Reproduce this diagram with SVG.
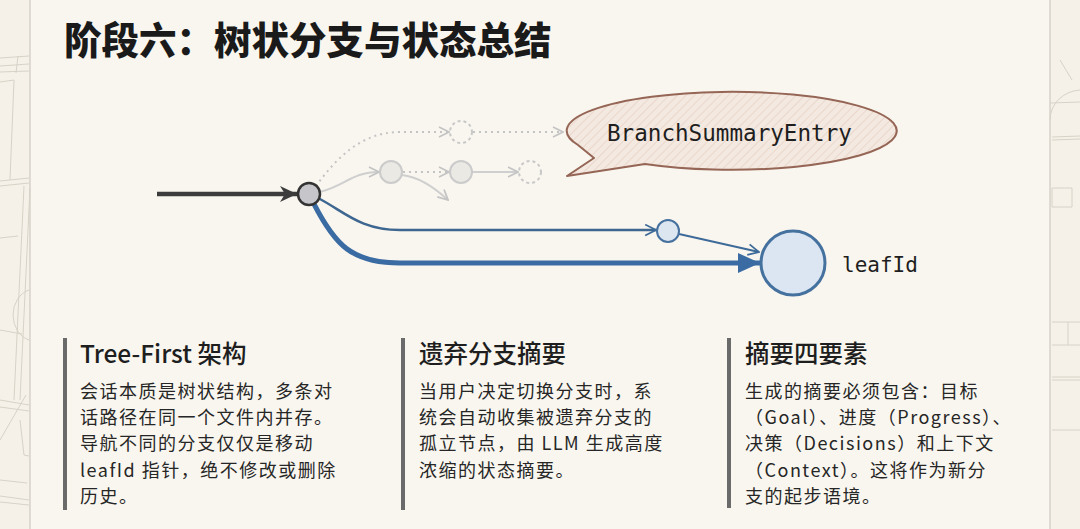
<svg xmlns="http://www.w3.org/2000/svg" width="1080" height="529" viewBox="0 0 1080 529">
  <defs>
    <style>
      .title{font-family:"Noto Sans CJK SC","Noto Sans",sans-serif;font-weight:900;font-size:37.5px;fill:#1a1a1a}
      .head{font-family:"Noto Sans CJK SC","Noto Sans",sans-serif;font-weight:500;font-size:24.5px;fill:#1e1e1e}
      .body{font-family:"Noto Sans CJK SC","Noto Sans",sans-serif;font-size:18px;letter-spacing:1.5px;fill:#262626}
      .mono{font-family:"DejaVu Sans Mono","Liberation Mono",monospace;fill:#1e1e1e}
      .bar{fill:#6a6a6a}
      .sketch{fill:none;stroke:#d6d2c8;stroke-width:1}
      .ghost{fill:#ebe9e4;stroke:#cbcbcb;stroke-width:2}
      .ghostdash{fill:none;stroke:#c8c8c8;stroke-width:2;stroke-dasharray:3 3}
      .dotted{fill:none;stroke:#c4c4c4;stroke-width:2;stroke-dasharray:2 4}
      .gsolid{fill:none;stroke:#cfcfcf;stroke-width:2}
    </style>
    <pattern id="hatch" width="6" height="6" patternUnits="userSpaceOnUse" patternTransform="rotate(45)">
      <rect width="6" height="6" fill="#f4e9e0"/>
      <line x1="0" y1="0" x2="0" y2="6" stroke="#e2cbbd" stroke-width="1.2"/>
    </pattern>
    <marker id="chevGray" viewBox="0 0 12 12" refX="11" refY="6" markerWidth="12" markerHeight="12" markerUnits="userSpaceOnUse" orient="auto">
      <path d="M1,1 L11,6 L1,11" fill="none" stroke="#c4c4c4" stroke-width="1.8"/>
    </marker>
    <marker id="chevBlue" viewBox="0 0 12 12" refX="11" refY="6" markerWidth="13" markerHeight="13" markerUnits="userSpaceOnUse" orient="auto">
      <path d="M1,1 L11,6 L1,11" fill="none" stroke="#3d6a98" stroke-width="1.6"/>
    </marker>
    <marker id="darkArrow" viewBox="0 0 20 20" refX="19" refY="10" markerWidth="20" markerHeight="20" markerUnits="userSpaceOnUse" orient="auto">
      <path d="M2,2 L19,10 L2,18 L7,10 Z" fill="#3c3c3c"/>
    </marker>
    <marker id="blueArrow" viewBox="0 0 24 24" refX="23" refY="12" markerWidth="24" markerHeight="24" markerUnits="userSpaceOnUse" orient="auto">
      <path d="M1,2 L23,12 L1,22 Z" fill="#3a6ca3"/>
    </marker>
  </defs>

  <rect width="1080" height="529" fill="#f5f1e8"/>
  <rect x="30" y="0" width="1020" height="529" fill="#f9f6ef"/>

  <g id="background-sketch">
    <line x1="30" y1="0" x2="30" y2="529" stroke="#cfcac0" stroke-width="1.2"/>
    <line x1="1050" y1="0" x2="1050" y2="529" stroke="#cfcac0" stroke-width="1.2"/>
    <path class="sketch" d="M0,58 L29,56 M0,66 L29,64 M0,72 L29,71 M18,56 L16,73 M14,80 L10,180 M0,82 L14,80 M0,181 L29,178 M0,186 L29,183 M24,186 L14,400 M30,188 L20,400 M0,238 L18,236 M29,290 A22,26 0 0 0 29,340 M0,330 L22,334 M0,400 L29,405 M0,407 L29,411 M20,420 L24,455 L29,456 M0,480 L27,483 M0,496 L29,500 M0,502 L29,505 M0,440 L26,395"/>
    <path class="sketch" d="M1050,103 L1080,102 M1052,137 L1080,136 M1052,140 L1080,139 M1050,120 A32,30 0 0 1 1080,90 M1052,188 L1072,188 L1072,207 L1052,207 Z M1060,60 L1072,80 M1052,322 L1080,322 M1068,322 L1068,345 M1052,345 L1080,345 M1052,377 L1080,377 M1052,380 L1080,380 M1052,430 L1080,430"/>
  </g>

  <g id="title">
    <text class="title" x="64" y="54">阶段六：树状分支与状态总结</text>
  </g>

  <g id="connectors">
    <line x1="157" y1="194" x2="297" y2="194" stroke="#3c3c3c" stroke-width="4.5" marker-end="url(#darkArrow)"/>
    <path class="dotted" d="M316,186 C335,160 360,132 400,132 L449,132" marker-end="url(#chevGray)"/>
    <path class="dotted" d="M473,132 L563,132" marker-end="url(#chevGray)"/>
    <path class="gsolid" d="M320,192 C345,186 352,172 379,172" marker-end="url(#chevGray)"/>
    <path class="dotted" d="M403,172 L449,172" marker-end="url(#chevGray)"/>
    <path class="gsolid" d="M402,175 C420,177 435,188 448,200" marker-end="url(#chevGray)"/>
    <path class="gsolid" d="M472,172 L518,172" marker-end="url(#chevGray)"/>
    <path d="M318,198 C345,212 360,230 400,230 L656,230" fill="none" stroke="#3d6690" stroke-width="2.5" marker-end="url(#chevBlue)"/>
    <path d="M679,234 L759,252" fill="none" stroke="#3d6a98" stroke-width="1.8" marker-end="url(#chevBlue)"/>
    <path d="M314,204 C335,245 352,263 400,263 L760,263" fill="none" stroke="#3a6ca3" stroke-width="5" marker-end="url(#blueArrow)"/>
  </g>

  <g id="node-root">
    <circle cx="309" cy="194" r="11" fill="#c6c6ca" stroke="#333" stroke-width="2.5"/>
  </g>
  <g id="node-ghost-top">
    <circle class="ghostdash" cx="461" cy="132" r="11"/>
  </g>
  <g id="node-ghost-a">
    <circle class="ghost" cx="391" cy="172" r="11"/>
  </g>
  <g id="node-ghost-b">
    <circle class="ghost" cx="461" cy="172" r="11"/>
  </g>
  <g id="node-ghost-c">
    <circle class="ghostdash" cx="530" cy="172" r="11"/>
  </g>
  <g id="node-mid">
    <circle cx="668" cy="231" r="11" fill="#dce6f1" stroke="#46709e" stroke-width="2"/>
  </g>
  <g id="node-leaf">
    <circle cx="793" cy="263" r="32" fill="#dbe6f2" stroke="#45719f" stroke-width="3"/>
    <text class="mono" x="842" y="272" font-size="21">leafId</text>
  </g>

  <g id="bubble">
    <path d="M645,164 A165,39 0 1 0 578,145 L594,158 L567,176 Z" fill="url(#hatch)" stroke="#956555" stroke-width="2" stroke-linejoin="round"/>
    <text class="mono" x="607" y="141" font-size="22.6">BranchSummaryEntry</text>
  </g>

  <g id="col-tree-first">
    <rect class="bar" x="63" y="338" width="4" height="172"/>
    <text class="head" x="80" y="363" font-size="25">Tree-First 架构</text>
    <text class="body"><tspan x="80" y="398">会话本质是树状结构，多条对</tspan><tspan x="80" y="424.2">话路径在同一个文件内并存。</tspan><tspan x="80" y="450.4">导航不同的分支仅仅是移动</tspan><tspan x="80" y="476.6">leafId 指针，绝不修改或删除</tspan><tspan x="80" y="502.8">历史。</tspan></text>
  </g>

  <g id="col-abandoned">
    <rect class="bar" x="401" y="338" width="4" height="172"/>
    <text class="head" x="419" y="363">遗弃分支摘要</text>
    <text class="body"><tspan x="419" y="398">当用户决定切换分支时，系</tspan><tspan x="419" y="424.2">统会自动收集被遗弃分支的</tspan><tspan x="419" y="450.4">孤立节点，由 LLM 生成高度</tspan><tspan x="419" y="476.6">浓缩的状态摘要。</tspan></text>
  </g>

  <g id="col-four-elements">
    <rect class="bar" x="727" y="338" width="4" height="170"/>
    <text class="head" x="745" y="363">摘要四要素</text>
    <text class="body"><tspan x="745" y="398">生成的摘要必须包含：目标</tspan><tspan x="745" y="424.2">（Goal）、进度（Progress）、</tspan><tspan x="745" y="450.4">决策（Decisions）和上下文</tspan><tspan x="745" y="476.6">（Context）。这将作为新分</tspan><tspan x="745" y="502.8">支的起步语境。</tspan></text>
  </g>
</svg>
